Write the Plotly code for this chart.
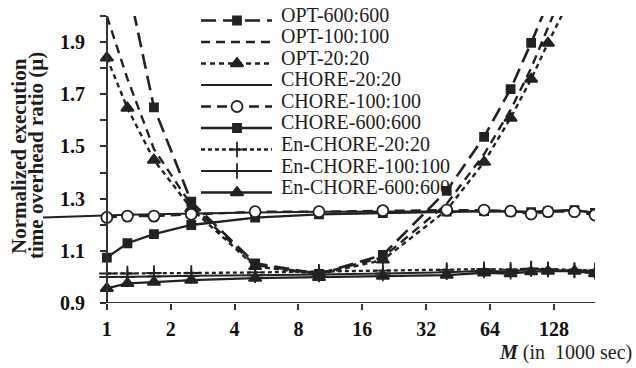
import math
import plotly.graph_objects as go

# ---------------- data (x in 1000 sec) ----------------
x_main = [1, 1.25, 1.667, 2.5, 5, 10, 20, 40, 60, 80, 100, 120, 160, 200]
x_chore20 = [0.5, 1, 1.25, 1.667, 2.5, 5, 10, 20, 40, 60, 80, 100, 120, 160, 200]
x_opt600 = [1, 1.25, 1.667, 2.5, 5, 10, 20, 40, 60, 80, 100, 120]
x_opt = [1, 1.25, 1.667, 2.5, 5, 10, 20, 40, 60, 80, 100, 120, 160]

opt_600 = [2.60, 2.13, 1.65, 1.288, 1.052, 1.012, 1.084, 1.33, 1.537, 1.72, 1.897, 2.05]
opt_100 = [2.00, 1.76, 1.49, 1.275, 1.045, 1.012, 1.075, 1.28, 1.47, 1.64, 1.80, 1.95, 2.20]
opt_20 = [1.84, 1.647, 1.448, 1.262, 1.04, 1.01, 1.065, 1.256, 1.44, 1.609, 1.758, 1.896, 2.10]
chore_20 = [1.228, 1.237, 1.238, 1.240, 1.243, 1.247, 1.250, 1.251, 1.252, 1.253, 1.252, 1.250, 1.254, 1.256, 1.246]
chore_100 = [1.228, 1.233, 1.233, 1.240, 1.250, 1.250, 1.254, 1.256, 1.256, 1.252, 1.241, 1.250, 1.250, 1.237]
chore_600 = [1.074, 1.129, 1.164, 1.199, 1.227, 1.240, 1.245, 1.250, 1.252, 1.250, 1.248, 1.250, 1.256, 1.245]
en_20 = [1.013, 1.013, 1.015, 1.015, 1.017, 1.020, 1.024, 1.027, 1.030, 1.028, 1.032, 1.030, 1.027, 1.025]
en_100 = [1.000, 1.000, 1.002, 1.004, 1.006, 1.009, 1.013, 1.018, 1.024, 1.020, 1.030, 1.028, 1.024, 1.020]
en_600 = [0.956, 0.975, 0.980, 0.988, 0.995, 0.998, 1.003, 1.007, 1.016, 1.013, 1.020, 1.022, 1.022, 1.013]

x_tickvals = [1, 2, 4, 8, 16, 32, 64, 128]
x_ticktext = ["1", "2", "4", "8", "16", "32", "64", "128"]
y_tickvals = [0.9, 1.1, 1.3, 1.5, 1.7, 1.9]
y_ticktext = ["0.9", "1.1", "1.3", "1.5", "1.7", "1.9"]

series_names = ["OPT-600:600", "OPT-100:100", "OPT-20:20", "CHORE-20:20", "CHORE-100:100",
                "CHORE-600:600", "En-CHORE-20:20", "En-CHORE-100:100", "En-CHORE-600:600"]

# ---------------- styles ----------------
C = "#222222"
AX = "#333333"
FONT = "Liberation Serif"
W, H = 636, 368
ML, MR, MT, MB = 43, 41, 16, 65
PW, PH = W - ML - MR, H - MT - MB

styles = {
    "OPT-600:600": dict(dash="15px,7px", width=2.6, symbol="square", size=8),
    "OPT-100:100": dict(dash="9px,6px", width=2.4, symbol=None, size=0),
    "OPT-20:20": dict(dash="5px,4px", width=2.4, symbol="triangle-up", size=11),
    "CHORE-20:20": dict(dash="solid", width=2.0, symbol=None, size=0),
    "CHORE-100:100": dict(dash="10px,6px", width=2.3, symbol="circle-open", size=11),
    "CHORE-600:600": dict(dash="solid", width=2.3, symbol="square", size=8),
    "En-CHORE-20:20": dict(dash="4px,3px", width=2.3, symbol="cross-thin-open", size=11),
    "En-CHORE-100:100": dict(dash="solid", width=2.0, symbol="cross-thin-open", size=11),
    "En-CHORE-600:600": dict(dash="solid", width=2.3, symbol="triangle-up", size=11),
}

data_map = {
    "OPT-600:600": (x_opt600, opt_600),
    "OPT-100:100": (x_opt, opt_100),
    "OPT-20:20": (x_opt, opt_20),
    "CHORE-20:20": (x_chore20, chore_20),
    "CHORE-100:100": (x_main, chore_100),
    "CHORE-600:600": (x_main, chore_600),
    "En-CHORE-20:20": (x_main, en_20),
    "En-CHORE-100:100": (x_main, en_100),
    "En-CHORE-600:600": (x_main, en_600),
}

def marker_dict(st):
    if st["symbol"] == "circle-open":
        return dict(symbol="circle", size=st["size"], color="white", line=dict(color=C, width=1.8))
    return dict(symbol=st["symbol"], size=st["size"], color=C, line=dict(color=C, width=1.8))

fig = go.Figure()
draw_order = ["OPT-600:600", "OPT-100:100", "OPT-20:20", "CHORE-20:20", "CHORE-600:600",
              "En-CHORE-20:20", "En-CHORE-100:100", "En-CHORE-600:600", "CHORE-100:100"]
for name in draw_order:
    xs, ys = data_map[name]
    st = styles[name]
    fig.add_trace(go.Scatter(
        x=xs, y=ys, name=name,
        mode="lines+markers" if st["symbol"] else "lines",
        line=dict(color=C, width=st["width"], dash=st["dash"]),
        marker=marker_dict(st) if st["symbol"] else None,
        showlegend=False, hoverinfo="skip",
    ))

# ---------------- custom legend on a pixel overlay axis ----------------
def px2paper_x(px):
    return (px - ML) / PW

def px2paper_y(py):
    return (H - MB - py) / PH

LEG_X0, LEG_X1, LEG_XM, LEG_TX = 201, 272, 237, 279
LEG_Y0, LEG_DY = 20.5, 21.5
annotations = []
for i, name in enumerate(series_names):
    st = styles[name]
    ly = LEG_Y0 + LEG_DY * i
    fig.add_trace(go.Scatter(
        x=[LEG_X0, LEG_X1], y=[ly, ly], xaxis="x2", yaxis="y2", mode="lines",
        line=dict(color=C, width=st["width"], dash=st["dash"]),
        showlegend=False, hoverinfo="skip"))
    if st["symbol"]:
        fig.add_trace(go.Scatter(
            x=[LEG_XM], y=[ly], xaxis="x2", yaxis="y2", mode="markers",
            marker=marker_dict(st), showlegend=False, hoverinfo="skip", cliponaxis=False))
    annotations.append(dict(
        text=name, xref="paper", yref="paper", x=px2paper_x(LEG_TX), y=px2paper_y(ly - 5.5),
        xanchor="left", yanchor="middle", showarrow=False,
        font=dict(family=FONT, size=20, color="#1e1e1e")))

# axis titles
annotations.append(dict(
    text="<b><i>M</i></b> (in\u00a0 1000 sec)", xref="paper", yref="paper",
    x=px2paper_x(634), y=px2paper_y(352), xanchor="right", yanchor="middle",
    showarrow=False, font=dict(family=FONT, size=20, color="#1e1e1e")))
annotations.append(dict(
    text="<b>Normalized execution</b>", xref="paper", yref="paper",
    x=px2paper_x(19), y=px2paper_y(156), xanchor="center", yanchor="middle",
    textangle=-90, showarrow=False, font=dict(family=FONT, size=21, color="#1e1e1e")))
annotations.append(dict(
    text="<b>time overhead ratio (\u03bc)</b>", xref="paper", yref="paper",
    x=px2paper_x(36), y=px2paper_y(156), xanchor="center", yanchor="middle",
    textangle=-90, showarrow=False, font=dict(family=FONT, size=21, color="#1e1e1e")))

x_lo, x_hi = 0.5, 200
y_lo, y_hi = 0.9, 2.0

fig.update_layout(
    width=W, height=H,
    margin=dict(l=ML, r=MR, t=MT, b=MB, pad=0),
    paper_bgcolor="white", plot_bgcolor="rgba(0,0,0,0)",
    showlegend=False,
    font=dict(family=FONT, color="#1e1e1e"),
    annotations=annotations,
    shapes=[dict(type="line", xref="x", yref="y", x0=1, x1=x_hi, y0=y_lo, y1=y_lo,
                 line=dict(color=AX, width=2))],
    xaxis=dict(
        type="log", range=[math.log10(x_lo), math.log10(x_hi)],
        tickmode="array", tickvals=x_tickvals, ticktext=x_ticktext,
        ticks="outside", ticklen=6, tickwidth=2, tickcolor=AX,
        showline=False, showgrid=False, zeroline=False,
        tickfont=dict(family=FONT, size=20, color="#111", weight="bold"),
        ticklabelstandoff=2,
    ),
    yaxis=dict(
        range=[y_lo, y_hi], anchor="free", position=px2paper_x(107),
        tickmode="array", tickvals=y_tickvals, ticktext=y_ticktext,
        ticks="outside", ticklen=6, tickwidth=2, tickcolor=AX,
        minor=dict(dtick=0.1, ticks="outside", ticklen=6, tickwidth=2, tickcolor=AX, showgrid=False),
        showline=True, linecolor=AX, linewidth=2, showgrid=False, zeroline=False,
        tickfont=dict(family=FONT, size=20, color="#111", weight="bold"),
        ticklabelstandoff=11,
    ),
    xaxis2=dict(range=[ML, W - MR], domain=[0, 1], anchor="y2", visible=False, fixedrange=True),
    yaxis2=dict(range=[H - MB, MT], domain=[0, 1], anchor="x2", visible=False, fixedrange=True),
)

fig.write_html("out.html", config={"displayModeBar": False},
               post_script="document.body.style.margin='0';document.body.style.overflow='hidden';")
